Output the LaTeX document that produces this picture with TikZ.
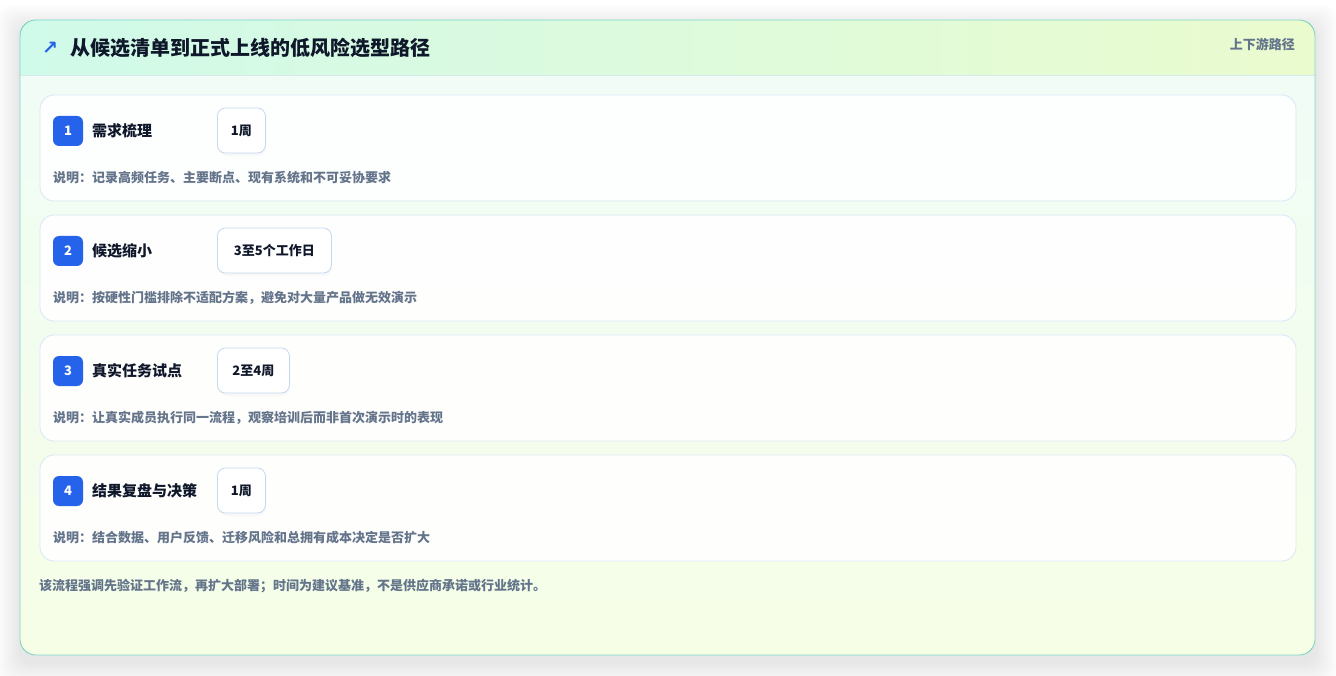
\documentclass[tikz,border=0pt]{standalone}
\usepackage{fontspec}
\setmainfont{Noto Sans CJK SC}
\newfontfamily\symfont{DejaVu Sans}
\definecolor{cardborder}{RGB}{125,218,200}
\definecolor{headL}{RGB}{208,250,234}
\definecolor{headR}{RGB}{234,251,206}
\definecolor{bodyT}{RGB}{240,252,248}
\definecolor{bodyB}{RGB}{246,254,230}
\definecolor{headline}{RGB}{214,236,236}
\definecolor{stepborder}{RGB}{216,232,244}
\definecolor{badgeblue}{RGB}{37,99,235}
\definecolor{darktext}{RGB}{15,23,42}
\definecolor{graytext}{RGB}{100,116,139}
\definecolor{pillborder}{RGB}{196,216,240}
\tikzset{
  stepcard/.style={draw=stepborder, line width=0.8pt, fill=white, fill opacity=0.92, rounded corners=14pt},
  badge/.style={fill=badgeblue, rounded corners=6pt, minimum width=30pt, minimum height=30pt, inner sep=0pt, text=white, font=\fontsize{13}{15}\selectfont\bfseries},
  steptitle/.style={anchor=west, inner sep=0pt, text=darktext, font=\fontsize{15}{17}\selectfont\bfseries},
  pill/.style={anchor=west, draw=pillborder, line width=0.8pt, fill=white, rounded corners=8pt, minimum height=45pt, inner sep=0pt, text=darktext, font=\fontsize{13}{15}\selectfont\bfseries},
  desc/.style={anchor=west, inner sep=0pt, text=graytext, font=\fontsize{13}{15}\selectfont\bfseries},
}
\begin{document}
\begin{tikzpicture}[x=1pt,y=1pt]
\useasboundingbox (0,0) rectangle (1336,-676);
\fill[white] (0,0) rectangle (1336,-676);
% soft shadow
\foreach \s in {1,...,24}{
  \fill[black, opacity=0.0032, rounded corners=16pt] (20-\s,-20+\s-8) rectangle (1315+\s,-655-\s-8);
}
% card body
\begin{scope}
  \clip[rounded corners=16pt] (20,-20) rectangle (1315,-655);
  \fill[top color=bodyT, bottom color=bodyB] (20,-20) rectangle (1315,-655);
  \fill[left color=headL, right color=headR] (20,-20) rectangle (1315,-75);
  \draw[headline, line width=0.8pt] (20,-75) -- (1315,-75);
\end{scope}
\draw[cardborder, line width=0.9pt, rounded corners=16pt] (20,-20) rectangle (1315,-655);
% header
\node[inner sep=0pt, text=badgeblue, font=\symfont\fontsize{19}{21}\selectfont\bfseries] (icon) at (50,-48) {↗};
\node[anchor=west, inner sep=0pt, text=darktext, font=\fontsize{20}{24}\selectfont\bfseries] (title) at (70,-48) {从候选清单到正式上线的低风险选型路径};
\node[anchor=east, inner sep=0pt, text=graytext, font=\fontsize{13}{15}\selectfont\bfseries] (tag) at (1295,-44) {上下游路径};
% steps
\foreach \i/\t/\d/\w/\ds in {
  1/需求梳理/1周/48/记录高频任务、主要断点、现有系统和不可妥协要求,
  2/候选缩小/3至5个工作日/114/按硬性门槛排除不适配方案，避免对大量产品做无效演示,
  3/真实任务试点/2至4周/72/让真实成员执行同一流程，观察培训后而非首次演示时的表现,
  4/结果复盘与决策/1周/48/结合数据、用户反馈、迁移风险和总拥有成本决定是否扩大}{
  \pgfmathsetmacro{\yo}{120*(\i-1)}
  \draw[stepcard] (40,-95-\yo) rectangle (1296,-201-\yo);
  \node[coordinate] (s\i card) at (668,-148-\yo) {};
  \node[badge] (s\i badge) at (68,-131-\yo) {\i};
  \node[steptitle] (s\i title) at (92,-131-\yo) {\t};
  \fill[black, opacity=0.025, rounded corners=8pt] (218,-111-\yo) rectangle (217+\w+1,-156-\yo);
  \node[pill, minimum width=\w pt] (s\i dur) at (217,-130.5-\yo) {\d};
  \node[desc] (s\i desc) at (53,-178-\yo) {说明：\ds};
}
% footer
\node[anchor=west, inner sep=0pt, text=graytext, font=\fontsize{13}{16}\selectfont\bfseries] (foot) at (39,-586) {该流程强调先验证工作流，再扩大部署；时间为建议基准，不是供应商承诺或行业统计。};
\end{tikzpicture}
\end{document}
